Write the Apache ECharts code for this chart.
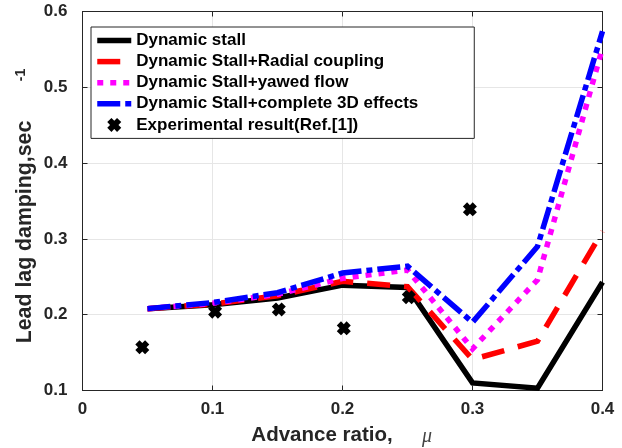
<!DOCTYPE html>
<html>
<head>
<meta charset="utf-8">
<script src="https://cdn.jsdelivr.net/npm/echarts@6/dist/echarts.min.js"></script>
<style>
  html, body { margin: 0; padding: 0; background: #fff; }
  #chart { width: 622px; height: 448px; }
</style>
</head>
<body>
<div id="chart"></div>
<script>
// Advance ratio samples shared by the model curves
const mu = [0.05, 0.10, 0.15, 0.20, 0.25, 0.30, 0.35, 0.40];

// Lead-lag damping (1/sec) for each model
const dynamicStall   = [0.208, 0.213, 0.222, 0.239, 0.236, 0.110, 0.103, 0.243];
const radialCoupling = [0.208, 0.214, 0.225, 0.244, 0.237, 0.141, 0.165, 0.310];
const yawedFlow      = [0.208, 0.215, 0.227, 0.248, 0.259, 0.155, 0.246, 0.552];
const complete3D     = [0.208, 0.216, 0.229, 0.255, 0.264, 0.190, 0.290, 0.574];

// Measured points
const expMu  = [0.046, 0.102, 0.151, 0.201, 0.251, 0.298];
const expVal = [0.157, 0.204, 0.207, 0.182, 0.223, 0.339];

const seriesNames = [
  'Dynamic stall',
  'Dynamic Stall+Radial coupling',
  'Dynamic Stall+yawed flow',
  'Dynamic Stall+complete 3D effects',
  'Experimental result(Ref.[1])'
];

const pairs = (xs, ys) => xs.map((x, i) => [x, ys[i]]);

const INK = '#262626';
const FONT = '"Liberation Sans", Arial, Helvetica, sans-serif';
const CROSS = 'path://M0,3 L3,0 L5,2 L7,0 L10,3 L8,5 L10,7 L7,10 L5,8 L3,10 L0,7 L2,5 Z';
const LINE_W = 5.5;

function lineSeries(name, values, color, type, z) {
  return {
    name: name,
    type: 'line',
    data: pairs(mu, values),
    symbol: 'none',
    z: z,
    animation: false,
    lineStyle: { color: color, width: LINE_W, type: type, cap: 'butt', join: 'miter' },
    itemStyle: { color: color }
  };
}

const chart = echarts.init(document.getElementById('chart'), null, { renderer: 'canvas' });

const baseX = {
  type: 'value', min: 0, max: 0.4, interval: 0.1,
  axisLine: { show: true, onZero: false, lineStyle: { color: INK, width: 1 } },
  axisTick: { show: true, inside: true, length: 5, lineStyle: { color: INK } }
};
const baseY = {
  type: 'value', min: 0.1, max: 0.6, interval: 0.1,
  axisLine: { show: true, onZero: false, lineStyle: { color: INK, width: 1 } },
  axisTick: { show: true, inside: true, length: 5, lineStyle: { color: INK } }
};

// Line entries show only their stroke in the legend; the cross keeps its marker
const legendData = seriesNames.map((name, i) => i < 4
  ? { name: name, itemStyle: { opacity: 0 } }
  : { name: name });

chart.setOption({
  animation: false,
  backgroundColor: '#fff',
  grid: { left: 82.5, right: 19.5, top: 11.5, bottom: 57.5, containLabel: false },
  xAxis: [
    Object.assign({}, baseX, {
      position: 'bottom',
      axisLabel: { color: INK, fontFamily: FONT, fontWeight: 'bold', fontSize: 17, margin: 10 },
      splitLine: { show: true, lineStyle: { color: '#e6e6e6', width: 1 } }
    }),
    Object.assign({}, baseX, {
      position: 'top',
      axisLabel: { show: false },
      splitLine: { show: false }
    })
  ],
  yAxis: [
    Object.assign({}, baseY, {
      position: 'left',
      axisLabel: {
        color: INK, fontFamily: FONT, fontWeight: 'bold', fontSize: 17, margin: 15,
        formatter: v => v.toFixed(1)
      },
      splitLine: { show: true, lineStyle: { color: '#e6e6e6', width: 1 } }
    }),
    Object.assign({}, baseY, {
      position: 'right',
      axisLabel: { show: false },
      splitLine: { show: false }
    })
  ],
  legend: {
    orient: 'vertical',
    left: 91, top: 27,
    padding: [5, 56, 5, 3.5],
    itemGap: 4.1,
    itemWidth: 34,
    itemHeight: 14,
    backgroundColor: '#fff',
    borderColor: INK,
    borderWidth: 1,
    borderRadius: 0,
    lineStyle: { width: LINE_W },
    data: legendData,
    textStyle: { color: '#000', fontFamily: FONT, fontWeight: 'bold', fontSize: 17, lineHeight: 16 }
  },
  graphic: [
    {
      type: 'text', x: 25, y: 232, rotation: Math.PI / 2,
      style: {
        text: 'Lead lag damping,sec', fill: INK, font: 'bold 21.3px ' + FONT,
        textAlign: 'center', textVerticalAlign: 'middle'
      }
    },
    {
      type: 'text', x: 21, y: 75, rotation: Math.PI / 2,
      style: {
        text: '-1', fill: INK, font: 'bold 14px ' + FONT,
        textAlign: 'center', textVerticalAlign: 'middle'
      }
    },
    {
      type: 'text', x: 322, y: 435,
      style: {
        text: 'Advance ratio,', fill: INK, font: 'bold 20.5px ' + FONT,
        textAlign: 'center', textVerticalAlign: 'middle'
      }
    },
    {
      type: 'text', x: 427, y: 437,
      style: {
        text: 'μ', fill: '#444', font: 'italic 20px "Liberation Serif", serif',
        textAlign: 'center', textVerticalAlign: 'middle'
      }
    }
  ],
  series: [
    lineSeries(seriesNames[0], dynamicStall, '#000000', 'solid', 2),
    lineSeries(seriesNames[1], radialCoupling, '#ff0000', [23, 14], 3),
    lineSeries(seriesNames[2], yawedFlow, '#ff00ff', [6, 7], 4),
    lineSeries(seriesNames[3], complete3D, '#0000ff', [23, 5, 6, 5], 5),
    {
      name: seriesNames[4],
      type: 'scatter',
      data: pairs(expMu, expVal),
      symbol: CROSS,
      symbolSize: 14,
      z: 6,
      itemStyle: { color: '#000', opacity: 1 }
    }
  ]
});
</script>
</body>
</html>
